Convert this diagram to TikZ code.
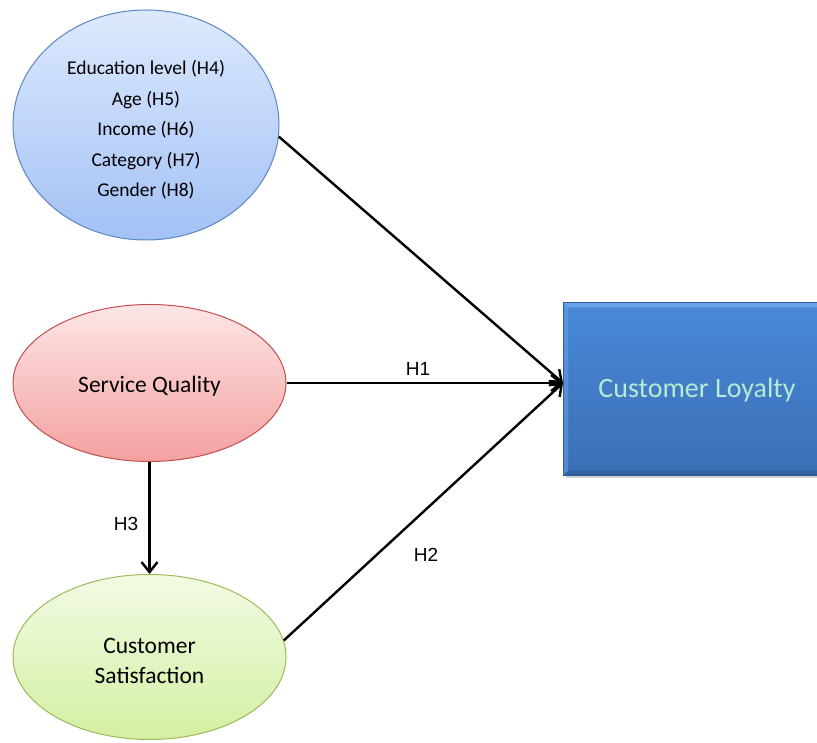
\documentclass[tikz,border=0pt]{standalone}
\usepackage{fontspec}
\setmainfont{Carlito}
\newfontfamily\hfont{Liberation Sans}
\usetikzlibrary{shapes.geometric,arrows.meta,shadows}
\definecolor{bluetop}{HTML}{DDE9FD}
\definecolor{bluebot}{HTML}{A3C1F5}
\definecolor{blueline}{HTML}{5B86C5}
\definecolor{redtop}{HTML}{FDE6E6}
\definecolor{redbot}{HTML}{F4A0A0}
\definecolor{redline}{HTML}{C0504D}
\definecolor{greentop}{HTML}{F2FBE4}
\definecolor{greenbot}{HTML}{D4EFA2}
\definecolor{greenline}{HTML}{9BBB59}
\definecolor{boxtop}{HTML}{4A88D8}
\definecolor{boxbot}{HTML}{3A6FB5}
\definecolor{boxline}{HTML}{2F5F9E}
\definecolor{bevellight}{HTML}{6AA2E8}
\definecolor{beveldark}{HTML}{2E5C9A}
\definecolor{loyaltxt}{HTML}{B6EBD3}
\tikzset{
  ell/.style={ellipse, draw, line width=1pt, inner sep=0pt},
  ltxt/.style={align=center, inner sep=0pt},
  conn/.style={line width=2.4pt, -{Straight Barb[length=10pt,width=16pt,line width=2.4pt]}},
  hlab/.style={font=\hfont\fontsize{19}{21}\selectfont}
}
\begin{document}
\begin{tikzpicture}[x=1pt,y=1pt]
\useasboundingbox (0,0) rectangle (817,742);
\node[ell, draw=blueline, top color=bluetop, bottom color=bluebot,
      minimum width=266, minimum height=230] (dem) at (146,617) {};
\node[ltxt, font=\fontsize{19.5}{30.5}\selectfont] (demtxt) at ([yshift=-5pt]dem.center)
  {Education level (H4)\\Age (H5)\\Income (H6)\\Category (H7)\\Gender (H8)};
\node[ell, draw=redline, top color=redtop, bottom color=redbot,
      minimum width=273, minimum height=157] (sq) at (149.5,359) {};
\node[ltxt, font=\fontsize{23.5}{28}\selectfont] (sqtxt) at ([yshift=-3pt]sq.center) {Service Quality};
\node[ell, draw=greenline, top color=greentop, bottom color=greenbot,
      minimum width=273, minimum height=165] (cs) at (149.5,85) {};
\node[ltxt, font=\fontsize{23.5}{30}\selectfont] (cstxt) at ([yshift=-4pt]cs.center) {Customer\\Satisfaction};
\node[draw=boxline, line width=1pt, top color=boxtop, bottom color=boxbot,
      minimum width=258, minimum height=172, anchor=west, inner sep=0pt,
      drop shadow={shadow xshift=2pt, shadow yshift=-3pt, opacity=0.35}] (cl) at (563,353) {};
\fill[bevellight] (cl.north west) -- (cl.north east) -- ([xshift=-5pt,yshift=-5pt]cl.north east) -- ([xshift=5pt,yshift=-5pt]cl.north west) -- cycle;
\fill[beveldark, opacity=0.6] (cl.south west) -- (cl.south east) -- ([xshift=-5pt,yshift=5pt]cl.south east) -- ([xshift=5pt,yshift=5pt]cl.south west) -- cycle;
\fill[bevellight, opacity=0.5] (cl.north west) -- ([xshift=5pt,yshift=-5pt]cl.north west) -- ([xshift=5pt,yshift=5pt]cl.south west) -- (cl.south west) -- cycle;
\draw[boxline, line width=1pt] (cl.north west) rectangle (cl.south east);
\node[text=loyaltxt, font=\fontsize{28}{32}\selectfont, inner sep=0pt] (cltxt) at (697,352) {Customer Loyalty};
\coordinate (tip) at (563,359);
\draw[conn] (dem.-5) -- (tip);
\draw[conn] (sq.east) -- (tip);
\draw[conn] (cs.7) -- (tip);
\draw[conn] (sq.south) -- (cs.north);
\node[hlab] (h1) at (418,373.5) {H1};
\node[hlab] (h2) at (426,187.5) {H2};
\node[hlab] (h3) at (126,218.5) {H3};
\end{tikzpicture}
\end{document}
